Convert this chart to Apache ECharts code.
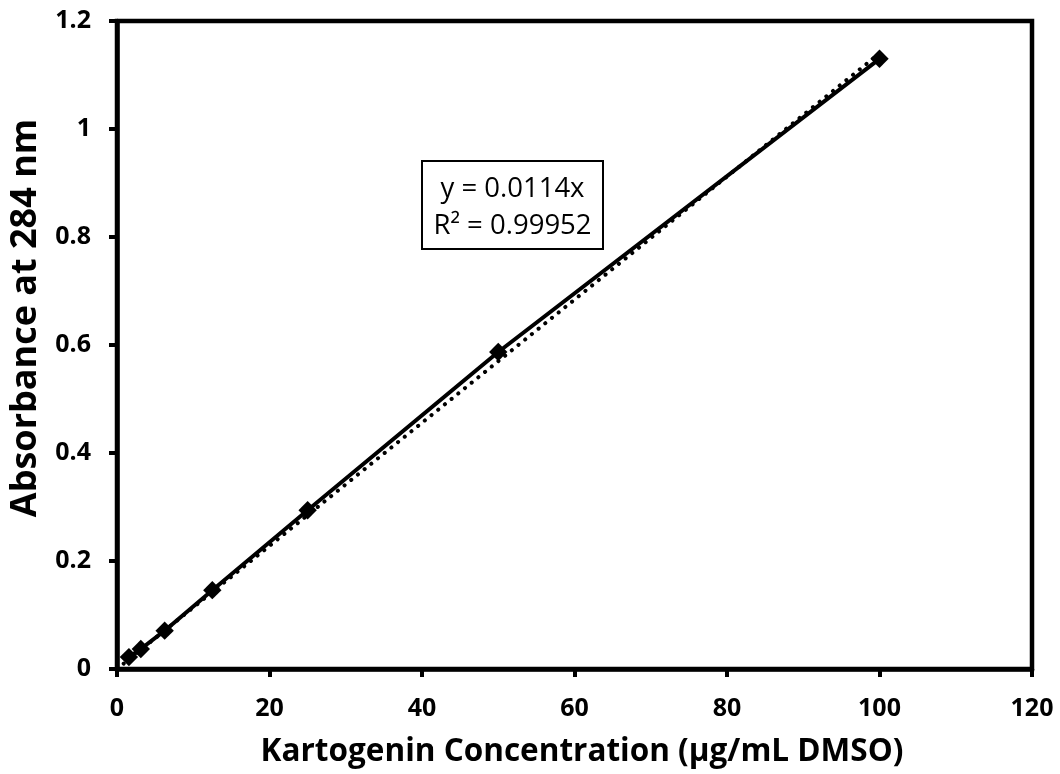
<!DOCTYPE html>
<html>
<head>
<meta charset="utf-8">
<script src="https://cdn.jsdelivr.net/npm/echarts@6/dist/echarts.min.js"></script>
<style>
  html, body { margin: 0; padding: 0; background: #fff; }
  #chart { width: 1060px; height: 774px; }
</style>
</head>
<body>
<div id="chart"></div>
<script>
// Kartogenin standard curve: concentration vs absorbance
const concentrations = [1.5625, 3.125, 6.25, 12.5, 25, 50, 100];
const absorbances = [0.022, 0.037, 0.071, 0.146, 0.294, 0.587, 1.13];
// Linear fit through the origin
const slope = 0.0114;
const fitRange = [0, 100];
const fitLabel = ['y = 0.0114x', 'R² = 0.99952'];
const xTitle = 'Kartogenin Concentration (µg/mL DMSO)';
const yTitle = 'Absorbance at 284 nm';

const measured = concentrations.map((c, i) => [c, absorbances[i]]);
const fitLine = fitRange.map(x => [x, slope * x]);

const font = '"Open Sans", Lato, sans-serif';
const axisText = { fontFamily: font, fontWeight: 'bold', fontSize: 25, color: '#000' };
const chart = echarts.init(document.getElementById('chart'));
chart.setOption({
  animation: false,
  grid: {
    left: 117, top: 21, right: 28, bottom: 105,
    show: true, borderColor: '#000', borderWidth: 4.5
  },
  xAxis: {
    type: 'value', min: 0, max: 120, interval: 20,
    axisLine: { show: true, lineStyle: { color: '#000', width: 4.5 } },
    axisTick: { show: true, inside: false, length: 8, lineStyle: { color: '#000', width: 4 } },
    axisLabel: Object.assign({ margin: 27 }, axisText),
    splitLine: { show: false }
  },
  yAxis: {
    type: 'value', min: 0, max: 1.2, interval: 0.2,
    axisLine: { show: true, lineStyle: { color: '#000', width: 4.5 } },
    axisTick: { show: true, inside: false, length: 8, lineStyle: { color: '#000', width: 4 } },
    axisLabel: Object.assign({ margin: 26 }, axisText),
    splitLine: { show: false }
  },
  series: [
    {
      name: 'Fit',
      type: 'line',
      data: fitLine,
      symbol: 'none',
      lineStyle: { color: '#000', width: 4, type: [0.1, 8.5], cap: 'round' },
      z: 2
    },
    {
      name: 'Measured',
      type: 'line',
      data: measured,
      symbol: 'rect',
      symbolSize: 13,
      symbolRotate: 45,
      itemStyle: { color: '#000' },
      lineStyle: { color: '#000', width: 4 },
      z: 3
    }
  ],
  graphic: [
    // axis titles
    { type: 'text', x: 582, y: 752, style: { text: xTitle, align: 'center', verticalAlign: 'middle',
        fontFamily: font, fontWeight: 'bold', fontSize: 31.5, fill: '#000' } },
    { type: 'text', x: 26, y: 318, rotation: Math.PI / 2, style: { text: yTitle, align: 'center', verticalAlign: 'middle',
        fontFamily: font, fontWeight: 'bold', fontSize: 36, fill: '#000' } },
    // fit equation box
    {
      type: 'group',
      left: 421, top: 160,
      children: [
        { type: 'rect', shape: { x: 0, y: 0, width: 181, height: 88 },
          style: { fill: '#fff', stroke: '#000', lineWidth: 2 } },
        { type: 'text', style: { x: 90.5, y: 28, text: fitLabel[0], align: 'center', verticalAlign: 'middle',
          fontFamily: font, fontSize: 27.5, fill: '#000' } },
        { type: 'text', style: { x: 90.5, y: 65, text: fitLabel[1], align: 'center', verticalAlign: 'middle',
          fontFamily: font, fontSize: 27.5, fill: '#000' } }
      ]
    }
  ]
});
</script>
</body>
</html>
